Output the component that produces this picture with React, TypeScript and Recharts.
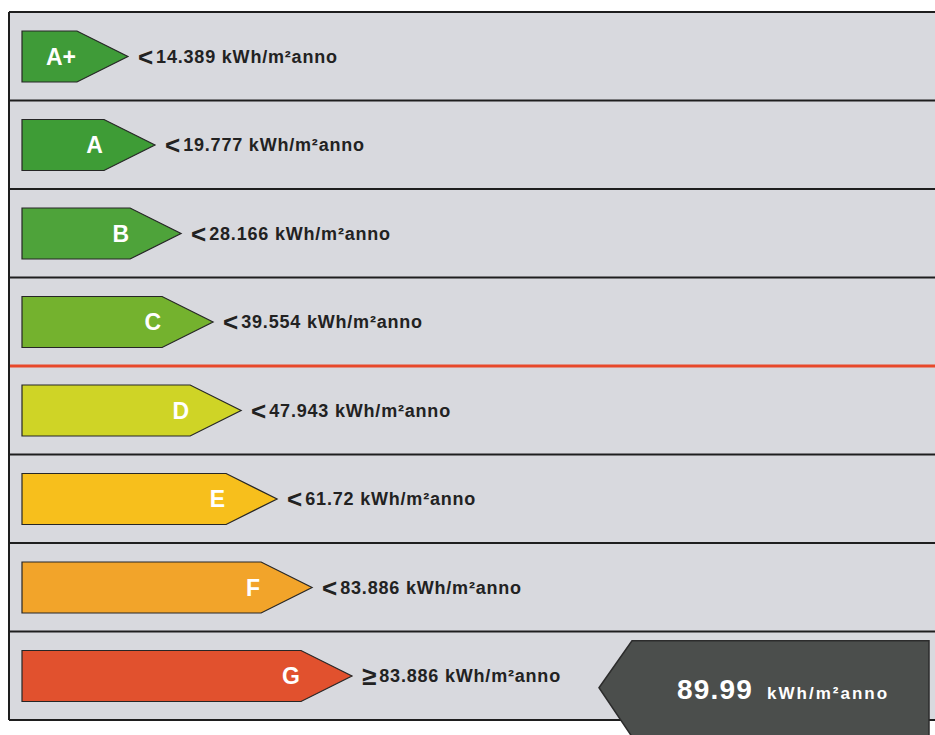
import { BarChart, Bar, XAxis, YAxis, CartesianGrid, ReferenceLine, ReferenceDot } from "recharts"

const classes = ["A+", "A", "B", "C", "D", "E", "F", "G"]
// arrow lengths relative to the longest (G = 100)
const barLengths = [32.1, 40.3, 48.2, 57.9, 66.4, 77.3, 87.9, 100]
const limits = [14.389, 19.777, 28.166, 39.554, 47.943, 61.72, 83.886, 83.886]
const limitSigns = ["<", "<", "<", "<", "<", "<", "<", "≥"]
const classColors = ["#3f9b38", "#3e9c36", "#4ea33a", "#74b22e", "#cfd426", "#f7bf1c", "#f2a42a", "#e1512e"]
const limitFromClass = "D" // red line sits on top of this class
const buildingValue = 89.99
const buildingClass = "G"
const unit = "kWh/m²anno"

const font = "'Liberation Sans', Arial, sans-serif"
const xDomain = [-3.94, 276.67]

const data = classes.map((cls, i) => ({
  cls,
  length: barLengths[i],
  limit: limits[i],
  sign: limitSigns[i],
  color: classColors[i],
}))

function ClassArrow(props: any) {
  const { x, y, width, height, payload } = props
  const tip = x + width
  const head = height
  const cy = y + height / 2
  const points = `${x},${y} ${tip - head},${y} ${tip},${cy} ${tip - head},${y + height} ${x},${y + height}`
  return (
    <g>
      <polygon points={points} fill={payload.color} stroke="#262626" strokeWidth={1.2} />
      <text x={tip - 52} y={cy + 8} textAnchor="end" fontFamily={font} fontWeight="bold" fontSize={23} fill="#fff">
        {payload.cls}
      </text>
      <text x={tip + 10} y={cy + 6} fontFamily={font} fontWeight="bold" fill="#222">
        <tspan fontSize={26} dy={3}>{payload.sign}</tspan>
        <tspan fontSize={18} dx={3} dy={-3} letterSpacing={0.8}>
          {payload.limit} {unit}
        </tspan>
      </text>
    </g>
  )
}

function BuildingMarker(props: any) {
  const { cx, cy } = props
  const right = cx - 6
  const body = cx - 303
  const tip = cx - 336
  const top = cy - 35
  const bottom = cy + 61
  const points = `${tip},${cy + 12} ${body},${top} ${right},${top} ${right},${bottom} ${body},${bottom}`
  return (
    <g>
      <polygon points={points} fill="#4b4e4c" stroke="#2c2c2c" strokeWidth={1.5} />
      <text x={cx - 258} y={cy + 23} fontFamily={font} fontWeight="bold" fill="#fff">
        <tspan fontSize={28} letterSpacing={1.2}>{buildingValue}</tspan>
        <tspan fontSize={17} dx={14} letterSpacing={2}>{unit}</tspan>
      </text>
    </g>
  )
}

export default function App() {
  return (
    <div style={{ position: "absolute", left: 0, top: 0 }}>
      <BarChart
        width={935}
        height={735}
        data={data}
        layout="vertical"
        margin={{ top: 12, right: 0, bottom: 15, left: 9 }}
        barCategoryGap={0}
      >
        <CartesianGrid fill="#d8d9de" horizontal={false} vertical={false} stroke="none" />
        <XAxis type="number" hide domain={xDomain} allowDataOverflow />
        <YAxis type="category" dataKey="cls" hide />
        {classes.map((cls) =>
          cls === limitFromClass ? null : (
            <ReferenceLine key={cls} y={cls} position="start" stroke="#1e1e1e" strokeWidth={2} ifOverflow="visible" />
          )
        )}
        <ReferenceLine y={classes[classes.length - 1]} position="end" stroke="#1e1e1e" strokeWidth={2} ifOverflow="visible" />
        <ReferenceLine y={limitFromClass} position="start" stroke="#e8482a" strokeWidth={3} />
        <ReferenceLine x={xDomain[0]} stroke="#1e1e1e" strokeWidth={2} ifOverflow="visible" />
        <Bar dataKey="length" barSize={51} shape={ClassArrow} isAnimationActive={false} />
        <ReferenceDot x={xDomain[1]} y={buildingClass} r={1} shape={BuildingMarker} ifOverflow="visible" />
      </BarChart>
    </div>
  )
}
